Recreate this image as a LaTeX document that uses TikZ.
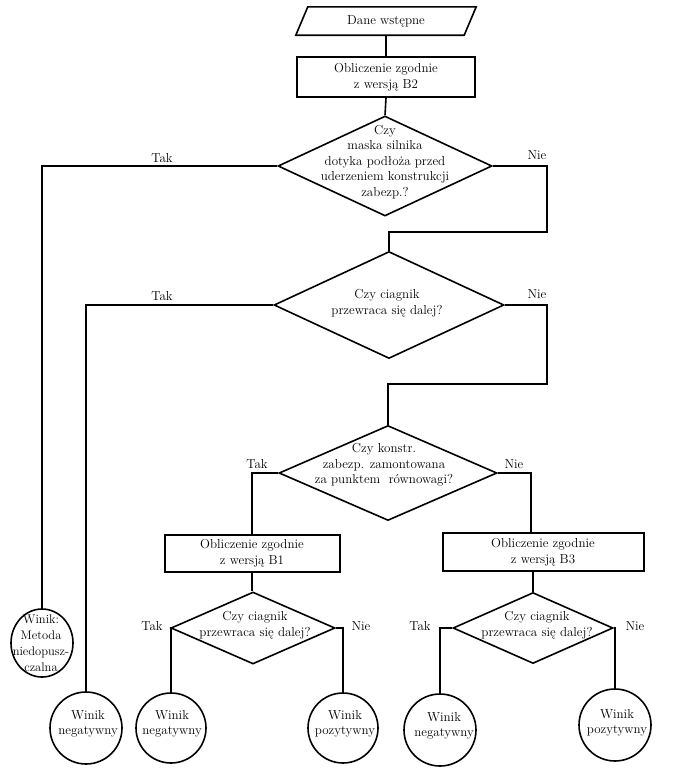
\documentclass[tikz,border=0pt]{standalone}
\usepackage{fontspec}
\usetikzlibrary{shapes.geometric,calc}
\begin{document}
\begin{tikzpicture}[x=1pt,y=-1pt,
  every node/.style={font=\fontsize{13}{15.5}\selectfont},
  ln/.style={line width=1.6pt},
  box/.style={draw,line width=2pt,rectangle,inner sep=0pt,align=center},
  dia/.style={draw,line width=1.6pt,diamond,inner sep=0pt},
  txt/.style={align=center,inner sep=0pt},
  res/.style={draw,line width=1.6pt,circle,inner sep=0pt},
  lab/.style={inner sep=0pt}]
\useasboundingbox (0,0) rectangle (673,769);

% start
\node[minimum width=168pt,minimum height=28pt,inner sep=0pt] (start) at (386,21) {Dane wstępne};
\draw[ln] ($(start.south west)+(-6,0)$) -- ($(start.north west)+(6,0)$) -- ($(start.north east)+(6,0)$) -- ($(start.south east)+(-6,0)$) -- cycle;

\node[box,minimum width=178pt,minimum height=40pt] (b2) at (386,77) {Obliczenie zgodnie\\z wersją B2};

% decision 1
\node[dia,minimum width=214pt,minimum height=100pt] (d1) at (385,166) {};
\node[txt] (d1t) at (385,162) {Czy\\maska silnika\\dotyka podłoża przed\\uderzeniem konstrukcji\\zabezp.?};

% decision 2
\node[dia,minimum width=230pt,minimum height=107pt] (d2) at (389,305) {};
\node[txt] (d2t) at (387,303) {Czy ciagnik\\przewraca się dalej?};

% decision 3
\node[dia,minimum width=218pt,minimum height=95pt] (d3) at (388,473) {};
\node[txt] (d3t) at (384,465) {Czy konstr.\\zabezp. zamontowana\\za punktem\ \ równowagi?};

% B1 and B3
\node[box,minimum width=175pt,minimum height=37pt] (b1) at (252,553) {Obliczenie zgodnie\\z wersją B1};
\node[box,minimum width=201pt,minimum height=38pt] (b3) at (543,552) {Obliczenie zgodnie\\z wersją B3};

\node[dia,minimum width=164pt,minimum height=72pt] (db1) at (253,628) {};
\node[txt] (db1t) at (255,625) {Czy ciagnik\\przewraca się dalej?};
\node[dia,minimum width=160pt,minimum height=71pt] (db3) at (533,628) {};
\node[txt] (db3t) at (537,625) {Czy ciagnik\\przewraca się dalej?};

% results
\node[draw,line width=1.6pt,ellipse,inner sep=0pt,minimum width=62pt,minimum height=68pt] (c0) at (42,643) {};
\node[txt,font=\fontsize{12.5}{16}\selectfont] (c0t) at (41,643) {Winik:\\Metoda\\niedopusz-\\czalna};
\node[res,minimum size=72pt] (c1) at (86,728) {};
\node[txt] (c1t) at (88,724) {Winik\\negatywny};
\node[res,minimum size=70pt] (c2) at (171,728) {};
\node[txt] (c2t) at (172,724) {Winik\\negatywny};
\node[res,minimum size=70pt] (c3) at (343,728) {};
\node[txt] (c3t) at (345,724) {Winik\\pozytywny};
\node[res,minimum size=72pt] (c4) at (440,730) {};
\node[txt] (c4t) at (444,726) {Winik\\negatywny};
\node[res,minimum size=72pt] (c5) at (615,725) {};
\node[txt] (c5t) at (617,723) {Winik\\pozytywny};

% turn points
\coordinate (k1) at (547,232);
\coordinate (k2) at (547,384);

% connectors
\draw[ln] (start.south) -- (b2.north);
\draw[ln] (b2.south) -- (d1.north);
\draw[ln] (d1.west) -| (c0.north);
\draw[ln] (d1.east) -| (k1) -| (d2.north);
\draw[ln] (d2.west) -| (c1.north);
\draw[ln] (d2.east) -| (k2) -| (d3.north);
\draw[ln] (d3.west) -| (b1.north);
\draw[ln] (d3.east) -| ([xshift=-12pt]b3.north);
\draw[ln] (b1.south) -- (b1.south |- db1.north);
\draw[ln] ([xshift=-10pt]b3.south) -- (db3.north);
\draw[ln] (db1.west) -| (c2.north);
\draw[ln] (db1.east) -| (c3.north);
\draw[ln] (db3.west) -| (c4.north);
\draw[ln] (db3.east) -| (c5.north);

% labels
\node[lab] (l1) at (162,158) {Tak};
\node[lab] (l2) at (537,155) {Nie};
\node[lab] (l3) at (162,296) {Tak};
\node[lab] (l4) at (537,294) {Nie};
\node[lab] (l5) at (257,464) {Tak};
\node[lab] (l6) at (514,464) {Nie};
\node[lab] (l7) at (152,626) {Tak};
\node[lab] (l8) at (361,626) {Nie};
\node[lab] (l9) at (420,626) {Tak};
\node[lab] (l10) at (635,626) {Nie};
\end{tikzpicture}
\end{document}
